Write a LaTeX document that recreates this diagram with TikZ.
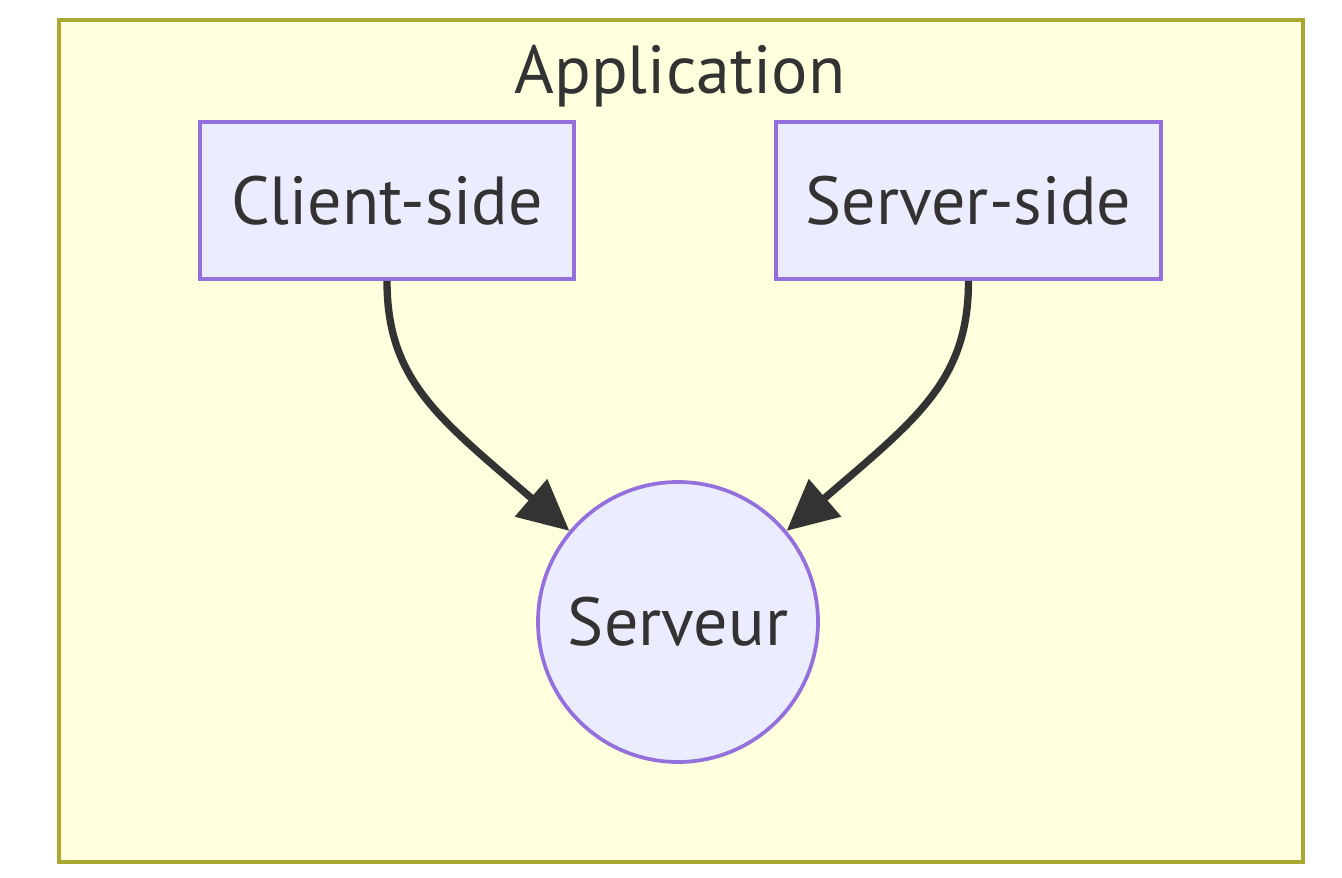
\documentclass[tikz,border=0pt]{standalone}
\usepackage{fontspec}
\setmainfont{PT Sans}
\usetikzlibrary{arrows.meta}
\definecolor{clusterfill}{HTML}{FFFFDE}
\definecolor{clusterline}{HTML}{AAAA33}
\definecolor{nodefill}{HTML}{ECECFF}
\definecolor{nodeline}{HTML}{9370DB}
\definecolor{ink}{HTML}{333333}
\tikzset{
  labelfont/.style={font=\fontsize{51pt}{60pt}\selectfont, text=ink},
  boxnode/.style={draw=nodeline, fill=nodefill, line width=2.8pt, rectangle, inner sep=0pt, minimum height=157*0.75pt, labelfont},
  circnode/.style={draw=nodeline, fill=nodefill, line width=2.8pt, circle, inner sep=0pt, minimum size=280*0.75pt, labelfont},
  link/.style={draw=ink, line width=5.5pt, line join=round, -{Triangle[length=38pt,width=36pt]}},
}
\begin{document}
\begin{tikzpicture}[x=0.75pt,y=-0.75pt]
\useasboundingbox (0,0) rectangle (1342,878);
\fill[white] (0,0) rectangle (1342,878);
\draw[draw=clusterline, fill=clusterfill, line width=2.5pt] (59,20) rectangle (1303,862);
\node[labelfont, anchor=base] (title) at (680,93) {Application};
\node[boxnode, minimum width=374*0.75pt] (cs) at (387,200.5) {Client-side};
\node[boxnode, minimum width=385*0.75pt] (ss) at (968.5,200.5) {Server-side};
\node[circnode] (srv) at (678,622) {Serveur};
\draw[link] (cs.south) .. controls +(0,100) and +(-130,-112) .. (srv.140);
\draw[link] (ss.south) .. controls +(0,100) and +(130,-112) .. (srv.40);
\end{tikzpicture}
\end{document}
